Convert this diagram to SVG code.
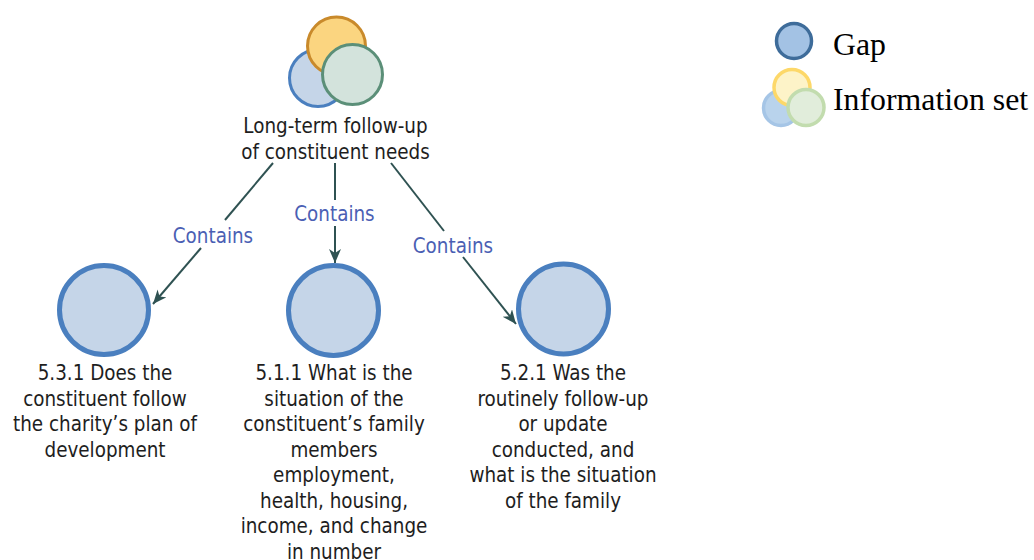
<svg xmlns="http://www.w3.org/2000/svg" width="1034" height="560" viewBox="0 0 1034 560">
<style>
.lbl{font-family:"DejaVu Sans Condensed","DejaVu Sans",sans-serif;font-size:20.4px;fill:#1e1e1e;text-anchor:middle}
.rel{font-family:"DejaVu Sans Condensed","DejaVu Sans",sans-serif;font-size:20.4px;fill:#4b5fb4;text-anchor:middle}
.leg{font-family:"Liberation Serif",serif;font-size:31.8px;fill:#000}
.gap{fill:#c5d5e8;stroke:#4a7fbf;stroke-width:5}
.edge{stroke:#2f5252;stroke-width:2;fill:none}
</style>
<defs>
<marker id="arr" markerUnits="userSpaceOnUse" markerWidth="16" markerHeight="14" refX="14" refY="6" orient="auto">
<path d="M0,0 L14,6 L0,12 L4,6 Z" fill="#2f5252"/>
</marker>
</defs>
<rect width="1034" height="560" fill="#fff"/>
<g id="connectors">
<line class="edge" x1="273" y1="163" x2="225" y2="220"/>
<line class="edge" x1="201" y1="248" x2="153" y2="304" marker-end="url(#arr)"/>
<text class="rel" x="213" y="243">Contains</text>
<line class="edge" x1="335" y1="163" x2="335" y2="200"/>
<line class="edge" x1="335" y1="226" x2="335" y2="263" marker-end="url(#arr)"/>
<text class="rel" x="334.5" y="221">Contains</text>
<line class="edge" x1="391" y1="163" x2="444" y2="231"/>
<line class="edge" x1="463" y1="257" x2="516" y2="324" marker-end="url(#arr)"/>
<text class="rel" x="453" y="253">Contains</text>
</g>
<g id="infoset">
<circle cx="318" cy="78" r="28.5" fill="#c5d5e8" stroke="#4a7fbf" stroke-width="3"/>
<circle cx="336.5" cy="46" r="29" fill="#fbd580" stroke="#c98a2b" stroke-width="3"/>
<circle cx="352.5" cy="74.5" r="30" fill="#d3e3dc" stroke="#5b8f78" stroke-width="3"/>
<text class="lbl" x="335.5" y="133">Long-term follow-up</text>
<text class="lbl" x="335.5" y="159">of constituent needs</text>
</g>
<g id="gap531">
<circle class="gap" cx="104" cy="310" r="44.5"/>
<text class="lbl" x="105" y="380">5.3.1 Does the</text>
<text class="lbl" x="105" y="405.5">constituent follow</text>
<text class="lbl" x="105" y="431">the charity’s plan of</text>
<text class="lbl" x="105" y="456.5">development</text>
</g>
<g id="gap511">
<circle class="gap" cx="333.5" cy="310.5" r="45"/>
<text class="lbl" x="334" y="380">5.1.1 What is the</text>
<text class="lbl" x="334" y="405.5">situation of the</text>
<text class="lbl" x="334" y="431">constituent’s family</text>
<text class="lbl" x="334" y="456.5">members</text>
<text class="lbl" x="334" y="482">employment,</text>
<text class="lbl" x="334" y="507.5">health, housing,</text>
<text class="lbl" x="334" y="533">income, and change</text>
<text class="lbl" x="334" y="558.5">in number</text>
</g>
<g id="gap521">
<circle class="gap" cx="563.5" cy="309" r="45"/>
<text class="lbl" x="563" y="380">5.2.1 Was the</text>
<text class="lbl" x="563" y="405.5">routinely follow-up</text>
<text class="lbl" x="563" y="431">or update</text>
<text class="lbl" x="563" y="456.5">conducted, and</text>
<text class="lbl" x="563" y="482">what is the situation</text>
<text class="lbl" x="563" y="507.5">of the family</text>
</g>
<g id="legend">
<circle cx="794" cy="41" r="17.5" fill="#a3c2e4" stroke="#3e6c9a" stroke-width="3.5"/>
<text class="leg" x="833" y="55">Gap</text>
<circle cx="781" cy="108" r="17.5" fill="#b9d3ec" stroke="#a5c5e6" stroke-width="3.5"/>
<circle cx="792" cy="87.5" r="18" fill="#fdf3c8" stroke="#fdd869" stroke-width="3.5"/>
<circle cx="806" cy="107.5" r="18" fill="#e1eddb" stroke="#c2dcae" stroke-width="3.5"/>
<text class="leg" x="833" y="110">Information set</text>
</g>
</svg>
